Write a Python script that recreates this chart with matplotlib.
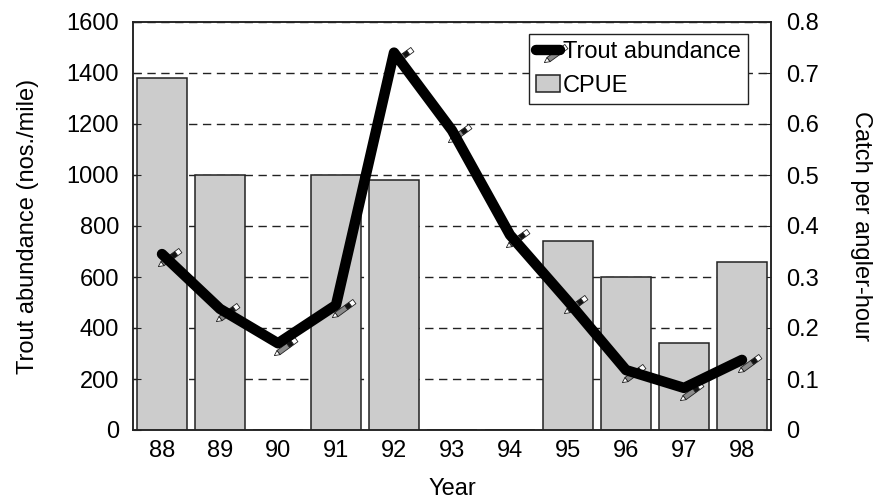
"""Trout abundance and CPUE by year, pencil markers on the abundance line."""
import matplotlib

matplotlib.use("Agg")
import matplotlib.pyplot as plt
from matplotlib.legend_handler import HandlerTuple
from matplotlib.lines import Line2D
from matplotlib.path import Path
from matplotlib.patches import Patch

years = ["88", "89", "90", "91", "92", "93", "94", "95", "96", "97", "98"]
abundance = [690, 475, 340, 490, 1480, 1175, 765, 505, 235, 165, 275]
cpue = [0.69, 0.50, 0, 0.50, 0.49, 0, 0, 0.37, 0.30, 0.17, 0.33]
abundance_ticks = [0, 200, 400, 600, 800, 1000, 1200, 1400, 1600]
cpue_ticks = [0, 0.1, 0.2, 0.3, 0.4, 0.5, 0.6, 0.7, 0.8]
cpue_labels = ["0", "0.1", "0.2", "0.3", "0.4", "0.5", "0.6", "0.7", "0.8"]

plt.rcParams["font.family"] = ["Liberation Sans", "DejaVu Sans"]
plt.rcParams["font.size"] = 17

DARK = "#222222"
LINE_WIDTH = 7.5


def pencil_part(start, stop, half_start=2.6, half_stop=2.6):
    # piece of a pencil, lengths in pixels along it from the tip
    tip = (-4.0, -12.0)
    along = (0.81, 0.59)
    normal = (-0.59, 0.81)

    def point(dist, off):
        return (tip[0] + along[0] * dist + normal[0] * off, tip[1] + along[1] * dist + normal[1] * off)

    verts = [point(start, -half_start), point(stop, -half_stop), point(stop, half_stop), point(start, half_start)]
    # the far corner keeps the marker scaling the same for each part
    verts = verts + [verts[0], (24, 24), (24, 24)]
    codes = [Path.MOVETO, Path.LINETO, Path.LINETO, Path.LINETO, Path.CLOSEPOLY, Path.MOVETO, Path.LINETO]
    return Path(verts, codes)


PENCIL_PARTS = [
    (pencil_part(0, 5, 0.1, 2.6), "white"),
    (pencil_part(5, 17), "#8a8a8a"),
    (pencil_part(17, 22), "#111111"),
    (pencil_part(22, 27), "white"),
]
PENCIL_SIZE = 48 * 0.72

fig = plt.figure(figsize=(8.73, 5), dpi=100)
ax_bars = fig.add_axes([133 / 873, 1 - 430 / 500, 638 / 873, 408 / 500])
ax_line = ax_bars.twinx()
ax_bars.set_zorder(1)
ax_line.set_zorder(2)
ax_line.patch.set_visible(False)

x = list(range(len(years)))

ax_bars.bar(x, cpue, width=0.85, color="#cccccc", edgecolor=DARK, linewidth=1.1, zorder=3)
ax_bars.set_axisbelow(True)
ax_bars.yaxis.grid(True, color=DARK, linestyle=(0, (6, 4)), linewidth=1.0)
ax_bars.set_ylim(0, 0.8)
ax_bars.set_xlim(-0.5, 10.5)
ax_bars.yaxis.tick_right()
ax_bars.yaxis.set_label_position("right")
ax_bars.set_yticks(cpue_ticks)
ax_bars.set_yticklabels(cpue_labels)
ax_bars.set_ylabel("Catch per angler-hour", rotation=270, labelpad=38)
ax_bars.set_xticks(x)
ax_bars.set_xticklabels(years)
ax_bars.set_xlabel("Year", labelpad=12)
ax_bars.tick_params(axis="x", length=0, pad=7)
ax_bars.tick_params(axis="y", direction="in", length=6, pad=11, color=DARK)

for part, face in PENCIL_PARTS:
    ax_line.plot(x, abundance, linestyle="none", marker=part, markersize=PENCIL_SIZE,
                 markerfacecolor=face, markeredgecolor=DARK, markeredgewidth=0.6, zorder=2)
ax_line.plot(x, abundance, color="black", linewidth=LINE_WIDTH, solid_capstyle="round",
             solid_joinstyle="round", zorder=3)
ax_line.set_ylim(0, 1600)
ax_line.yaxis.tick_left()
ax_line.yaxis.set_label_position("left")
ax_line.set_yticks(abundance_ticks)
ax_line.set_ylabel("Trout abundance (nos./mile)", labelpad=20)
ax_line.tick_params(axis="y", direction="in", length=6, pad=10, color=DARK)

for ax in (ax_bars, ax_line):
    for spine in ax.spines.values():
        spine.set_linewidth(1.1)
        spine.set_color(DARK)

line_handle = Line2D([], [], color="black", linewidth=LINE_WIDTH, solid_capstyle="round")
pencil_handles = [
    Line2D([], [], linestyle="none", marker=part, markersize=PENCIL_SIZE,
           markerfacecolor=face, markeredgecolor=DARK, markeredgewidth=0.6)
    for part, face in PENCIL_PARTS
]
bar_handle = Patch(facecolor="#cccccc", edgecolor=DARK, linewidth=1.1)

ax_line.legend(
    [(*pencil_handles, line_handle), bar_handle],
    ["Trout abundance", "CPUE"],
    handler_map={tuple: HandlerTuple(ndivide=1, pad=0)},
    loc="upper left",
    bbox_to_anchor=(396 / 638, 1 - 12 / 408),
    borderaxespad=0,
    fancybox=False,
    framealpha=1,
    edgecolor=DARK,
    handlelength=1.0,
    handletextpad=0.15,
    labelspacing=0.5,
    borderpad=0.3,
)

fig.savefig("out.png", dpi=100)
